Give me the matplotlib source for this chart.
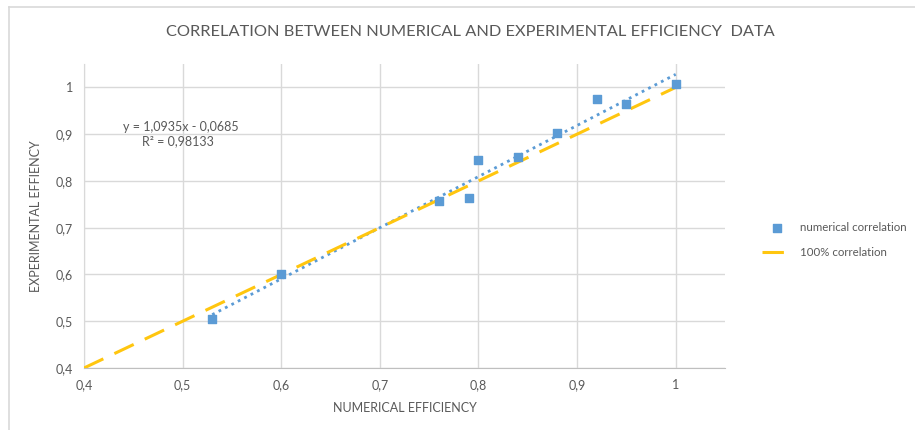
import numpy as np
import matplotlib.pyplot as plt
from matplotlib.lines import Line2D

plt.rcParams['font.family'] = ['Lato', 'DejaVu Sans']

# data
numerical = [0.53, 0.60, 0.76, 0.79, 0.80, 0.84, 0.88, 0.92, 0.95, 1.00]
experimental = [0.505, 0.601, 0.757, 0.763, 0.844, 0.851, 0.902, 0.975, 0.964, 1.007]
ideal_x = [0.4, 1.0]
ideal_y = [0.4, 1.0]
ticks = [0.4, 0.5, 0.6, 0.7, 0.8, 0.9, 1.0]
tick_labels = ['0,4', '0,5', '0,6', '0,7', '0,8', '0,9', '1']

grey = '#595959'
grid = '#D9D9D9'
blue = '#5B9BD5'
gold = '#FFC60F'

fig = plt.figure(figsize=(9.15, 4.3), dpi=100)
ax = fig.add_axes([84/915, 1-368/430, (725-84)/915, (368-64)/430])

# frame of the chart area (only top/left visible in the screenshot)
fig.add_artist(Line2D([9/915, 1], [1-7/430, 1-7/430], color='#D9D9D9', lw=1.2))
fig.add_artist(Line2D([9/915, 9/915], [0, 1-7/430], color='#D9D9D9', lw=1.2))

# linear trendline
k, b = np.polyfit(numerical, experimental, 1)
xt = np.array([min(numerical), max(numerical)])
ax.plot(xt, k*xt + b, linestyle=(0, (1, 1.6)), color=blue, lw=2, zorder=2)

ax.plot(ideal_x, ideal_y, linestyle=(0, (7, 4)), color=gold, lw=2.2, zorder=3,
        label='100% correlation')
ax.scatter(numerical, experimental, marker='s', s=30, color=blue, zorder=4,
           label='numerical correlation')

ax.set_xlim(0.4, 1.05)
ax.set_ylim(0.4, 1.05)
ax.set_xticks(ticks)
ax.set_xticklabels(tick_labels)
ax.set_yticks(ticks)
ax.set_yticklabels(tick_labels)
ax.grid(True, color=grid, lw=1)
ax.set_axisbelow(True)
for s in ['top', 'right']:
    ax.spines[s].set_visible(False)
ax.spines['left'].set_color(grid)
ax.spines['bottom'].set_color('#BFBFBF')
ax.tick_params(length=0, colors=grey, labelsize=9, pad=8)

ax.text(0.44, 0.906, 'y = 1,0935x - 0,0685', fontsize=9, color=grey)
ax.text(0.459, 0.876, 'R² = 0,98133', fontsize=9, color=grey)

ax.set_xlabel('NUMERICAL EFFICIENCY', fontsize=9, color=grey, labelpad=8)
ax.set_ylabel('EXPERIMENTAL EFFIENCY', fontsize=9, color=grey, labelpad=10)
fig.text(470/915, 1-32/430, 'CORRELATION BETWEEN NUMERICAL AND EXPERIMENTAL EFFICIENCY  DATA',
         ha='center', va='center', fontsize=11.8, color=grey)

handles, labels = ax.get_legend_handles_labels()
leg = fig.legend(handles[::-1], labels[::-1], loc='center left',
                 bbox_to_anchor=(762/915, 1-240/430), frameon=False,
                 fontsize=8.3, labelcolor=grey, handlelength=2.6,
                 handletextpad=0.7, borderaxespad=0, borderpad=0,
                 labelspacing=1.2)

fig.savefig('out.png', dpi=100)
